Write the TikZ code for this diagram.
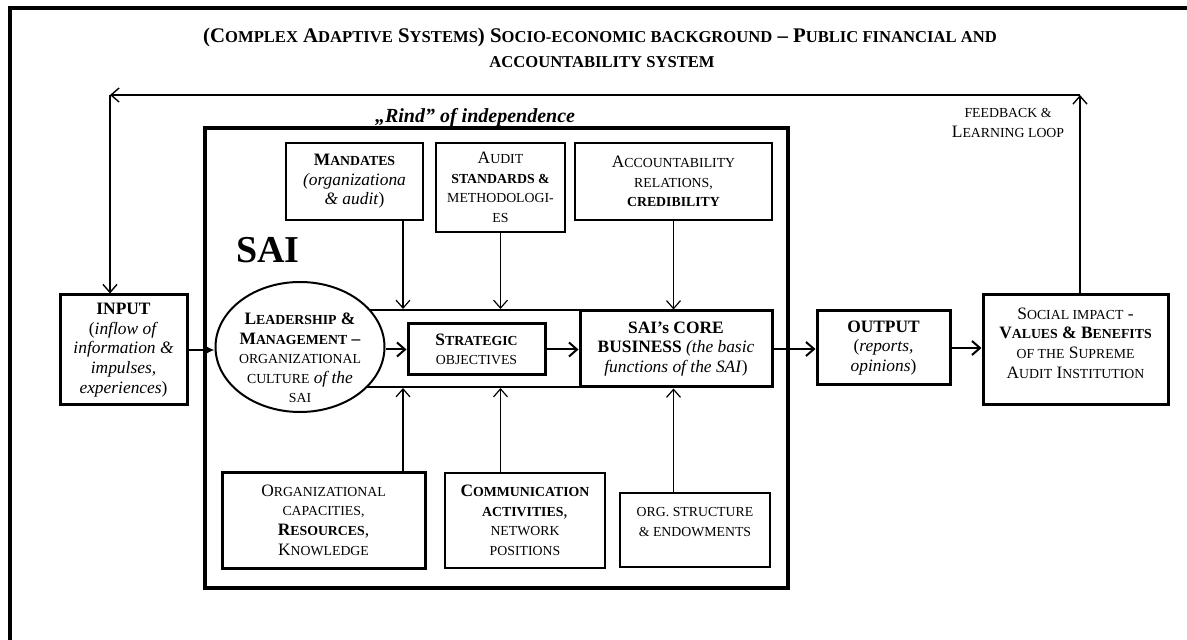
\documentclass[tikz,border=0pt]{standalone}
\usepackage{fontspec}
\setmainfont{Liberation Serif}
\usetikzlibrary{arrows.meta,shapes.geometric}
\newcommand\smc[1]{{\fontsize{6.9pt}{9.8pt}\selectfont #1}}
\newcommand\tsmc[1]{{\fontsize{8.3pt}{12pt}\selectfont #1}}

\begin{document}
\begin{tikzpicture}[x=0.5pt,y=-0.5pt,
    font=\fontsize{8.7pt}{9.8pt}\selectfont,
    thinbox/.style={draw,line width=0.6pt,align=center,inner sep=0pt},
    thickbox/.style={draw,line width=1.5pt,align=center,inner sep=0pt},
    txt/.style={align=center,inner sep=0pt},
    arr/.style={line width=0.6pt,-{Straight Barb[length=4pt,width=7pt]}},
    harr/.style={line width=1pt,-{Straight Barb[length=4pt,width=7pt]}},
    fbarr/.style={line width=0.7pt,-{Straight Barb[length=4pt,width=7pt]}}]

    \useasboundingbox (0,0) rectangle (1187,640);
    \draw[line width=2.2pt] (10,640) -- (10,8) -- (1187,8);

    \node[txt,font=\fontsize{10.4pt}{12pt}\selectfont\bfseries] (title1) at (600,38) {(C\tsmc{OMPLEX} A\tsmc{DAPTIVE} S\tsmc{YSTEMS}) S\tsmc{OCIO-ECONOMIC BACKGROUND} -- P\tsmc{UBLIC FINANCIAL AND}};
    \node[txt,font=\fontsize{10.4pt}{12pt}\selectfont\bfseries] (title2) at (602,62) {\tsmc{ACCOUNTABILITY SYSTEM}};

    \node[draw,line width=2pt,minimum width=291.5pt,minimum height=230pt,inner sep=0pt] (sai) at (496.5,358) {};
    \node[txt,font=\fontsize{10pt}{11pt}\selectfont\bfseries\itshape] (rind) at (475,118) {„Rind” of independence};
    \node[txt,font=\fontsize{19pt}{20pt}\selectfont\bfseries] (sailabel) at (268,250) {SAI};

    \node[thinbox,minimum width=68.5pt,minimum height=38.5pt] (mand) at (354.5,181.5) {\textbf{M\smc{ANDATES}}\\\textit{(organizationa}\\\textit{\& audit})};
    \node[thinbox,minimum width=64.5pt,minimum height=44.5pt] (audit) at (500.5,187.5) {A\smc{UDIT}\\\textbf{\smc{STANDARDS \&}}\\\smc{METHODOLOGI-}\\\smc{ES}};
    \node[thinbox,minimum width=98.5pt,minimum height=38.5pt] (acct) at (673.5,181.5) {A\smc{CCOUNTABILITY}\\\smc{RELATIONS,}\\\textbf{\smc{CREDIBILITY}}};

    \node[draw,line width=1pt,minimum width=140pt,minimum height=38.5pt,inner sep=0pt] (band) at (440,348.5) {};
    \node[draw,ellipse,fill=white,line width=1pt,minimum width=84.5pt,minimum height=65pt,inner sep=0pt] (lead) at (300,347) {};
    \node[txt] (leadtext) at (300,358) {\textbf{L\smc{EADERSHIP} \&}\\\textbf{M\smc{ANAGEMENT} --}\\\smc{ORGANIZATIONAL}\\\smc{CULTURE} \textit{of the}\\\smc{SAI}};
    \node[thickbox,minimum width=68.5pt,minimum height=25.5pt] (strat) at (476.5,349.5) {\textbf{S\smc{TRATEGIC}}\\\smc{OBJECTIVES}};
    \node[thickbox,minimum width=96pt,minimum height=38pt] (core) at (676,349) {\textbf{SAI’s CORE}\\\textbf{BUSINESS} \textit{(the basic}\\\textit{functions of the SAI})};

    \node[thickbox,minimum width=63.5pt,minimum height=55pt] (input) at (123.5,350) {\textbf{INPUT}\\(\textit{inflow of}\\\textit{information \&}\\\textit{impulses,}\\\textit{experiences})};
    \node[thickbox,minimum width=66.5pt,minimum height=37pt] (output) at (883.5,348) {\textbf{OUTPUT}\\(\textit{reports,}\\\textit{opinions})};
    \node[thickbox,minimum width=92.5pt,minimum height=55pt] (social) at (1075.5,350) {};
    \node[txt] (socialtext) at (1075.5,343) {S\smc{OCIAL IMPACT} -\\\textbf{V\smc{ALUES} \& B\smc{ENEFITS}}\\\smc{OF THE} S\smc{UPREME}\\A\smc{UDIT} I\smc{NSTITUTION}};

    \node[thickbox,minimum width=101.5pt,minimum height=48pt] (orgcap) at (323.5,520) {O\smc{RGANIZATIONAL}\\\smc{CAPACITIES,}\\\textbf{R\smc{ESOURCES}},\\K\smc{NOWLEDGE}};
    \node[thinbox,minimum width=80pt,minimum height=47.5pt] (comm) at (525,520.5) {\textbf{C\smc{OMMUNICATION}}\\\textbf{\smc{ACTIVITIES}},\\\smc{NETWORK}\\\smc{POSITIONS}};
    \node[thinbox,minimum width=75pt,minimum height=37pt] (orgstr) at (695,530) {};
    \node[txt] (orgstrtext) at (695,522) {\smc{ORG. STRUCTURE}\\\smc{\& ENDOWMENTS}};

    \node[txt] (loop) at (1008,123) {\smc{FEEDBACK \&}\\L\smc{EARNING LOOP}};

    \coordinate (fbR) at (1080,95);
    \coordinate (fbL) at (110,95);

    \draw[fbarr] (fbR |- social.north) -- (fbR);
    \draw[fbarr] (fbR) -- (fbL);
    \draw[fbarr] (fbL) -- (fbL |- input.north);

    \draw[line width=1pt,-{Latex[length=5pt,width=5pt]}] (input.east) -- (input.east -| lead.west);
    \draw[harr] (strat.west -| lead.east) -- (strat.west);
    \draw[harr] (strat.east) -- (strat.east -| core.west);
    \draw[harr] (core.east) -- (core.east -| output.west);
    \draw[harr] (output.east) -- (output.east -| social.west);

    \draw[arr] (403,0 |- mand.south) -- (403,0 |- band.north);
    \draw[arr] (audit.south) -- (audit.south |- band.north);
    \draw[arr] (acct.south) -- (acct.south |- core.north);
    \draw[arr] (403,0 |- orgcap.north) -- (403,0 |- band.south);
    \draw[arr] (audit.south |- comm.north) -- (audit.south |- band.south);
    \draw[arr] (acct.south |- orgstr.north) -- (acct.south |- core.south);

\end{tikzpicture}
\end{document}
